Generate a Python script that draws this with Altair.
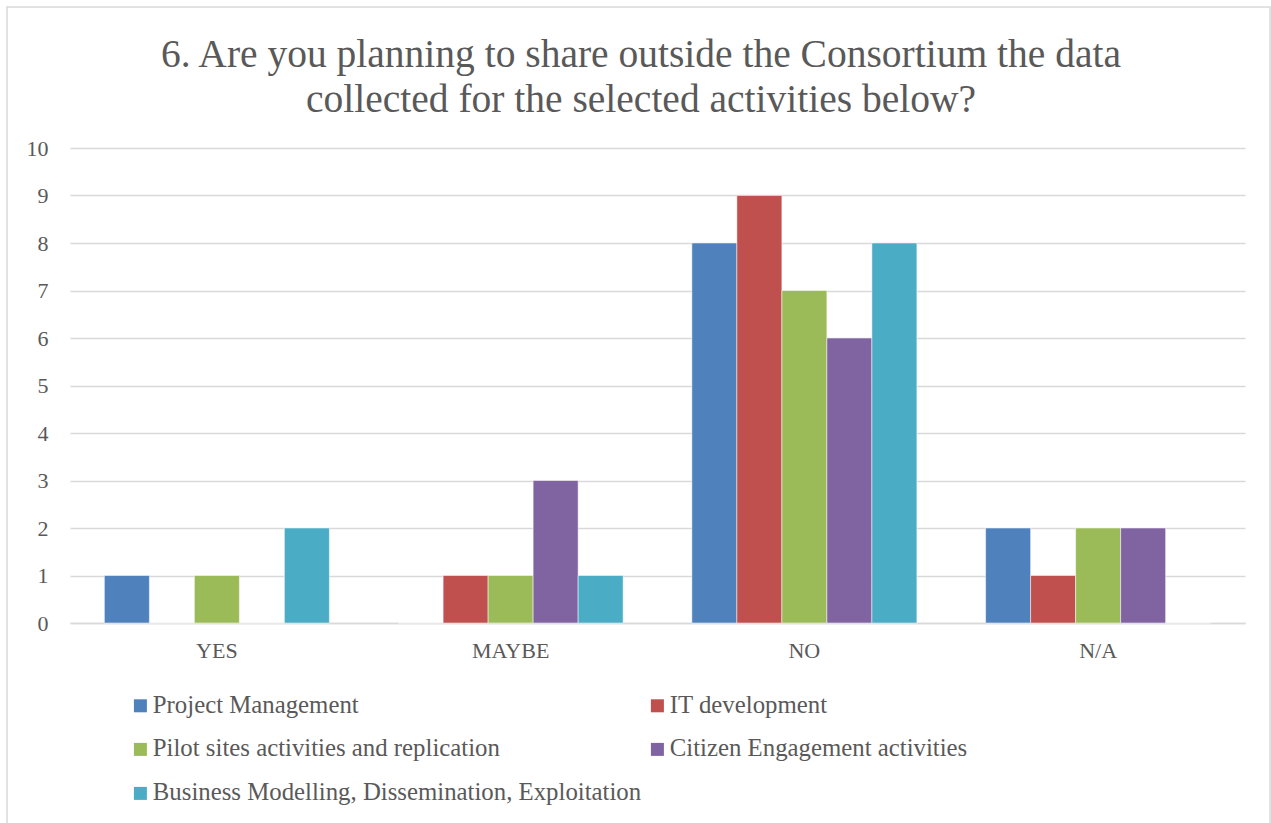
import altair as alt
import pandas as pd

categories = ["YES", "MAYBE", "NO", "N/A"]
series = [
    "Project Management",
    "IT development",
    "Pilot sites activities and replication",
    "Citizen Engagement activities",
    "Business Modelling, Dissemination, Exploitation",
]
values = {
    "Project Management": [1, 0, 8, 2],
    "IT development": [0, 1, 9, 1],
    "Pilot sites activities and replication": [1, 1, 7, 2],
    "Citizen Engagement activities": [0, 3, 6, 2],
    "Business Modelling, Dissemination, Exploitation": [2, 1, 8, 0],
}
colors = ["#4F81BD", "#C0504D", "#9BBB59", "#8064A2", "#4BACC6"]
y_ticks = list(range(0, 11))
title_lines = [
    "6. Are you planning to share outside the Consortium the data",
    "collected for the selected activities below?",
]

rows = []
for s in series:
    for c, v in zip(categories, values[s]):
        rows.append({"category": c, "series": s, "value": v})
df = pd.DataFrame(rows)

FONT = "Liberation Serif"
GREY = "#595959"

bars = alt.Chart(df).mark_bar(stroke="white", strokeWidth=0.5).encode(
    x=alt.X(
        "category:N",
        sort=categories,
        title=None,
        scale=alt.Scale(paddingInner=0.234, paddingOuter=0.117),
        axis=alt.Axis(
            labelAngle=0,
            labelFont=FONT,
            labelFontSize=22,
            labelColor=GREY,
            labelPadding=17,
            ticks=False,
            domainColor="#d9d9d9",
            domainWidth=1.5,
            grid=False,
        ),
    ),
    xOffset=alt.XOffset("series:N", sort=series, scale=alt.Scale(paddingInner=0, paddingOuter=0)),
    y=alt.Y(
        "value:Q",
        title=None,
        scale=alt.Scale(domain=[0, 10], nice=False),
        axis=alt.Axis(
            values=y_ticks,
            labelFont=FONT,
            labelFontSize=22,
            labelColor=GREY,
            labelPadding=22,
            ticks=False,
            domain=False,
            gridColor="#d9d9d9",
            gridWidth=1.5,
        ),
    ),
    color=alt.Color(
        "series:N",
        sort=series,
        scale=alt.Scale(domain=series, range=colors),
        legend=alt.Legend(
            title=None,
            orient="none",
            legendX=58,
            legendY=545,
            columns=2,
            direction="horizontal",
            symbolType="square",
            symbolSize=169,
            symbolStrokeWidth=0,
            labelFont=FONT,
            labelFontSize=24.8,
            labelColor=GREY,
            labelOffset=0,
            rowPadding=18,
            columnPadding=3,
            labelLimit=700,
        ),
    ),
)

border_df = pd.DataFrame({"b": [1]})
border = alt.Chart(border_df).mark_rect(fillOpacity=0, stroke="#d9d9d9", strokeWidth=1.5).encode(
    x=alt.value(-63),
    x2=alt.value(1200),
    y=alt.value(-141),
    y2=alt.value(700),
)

title1 = alt.Chart(pd.DataFrame({"t": [title_lines[0]]})).mark_text(
    font=FONT, fontSize=39.5, color=GREY, align="center", baseline="alphabetic"
).encode(text="t:N", x=alt.value(571), y=alt.value(-81))

title2 = alt.Chart(pd.DataFrame({"t": [title_lines[1]]})).mark_text(
    font=FONT, fontSize=39.5, color=GREY, align="center", baseline="alphabetic"
).encode(text="t:N", x=alt.value(571), y=alt.value(-36))

chart = alt.layer(border, title1, title2, bars).properties(
    width=1175,
    height=475,
    autosize=alt.AutoSizeParams(type="none"),
    padding={"left": 70, "top": 148, "right": 26, "bottom": 200},
).configure_view(stroke=None)

chart.save("out.html", embed_options={"renderer": "svg", "actions": False})
